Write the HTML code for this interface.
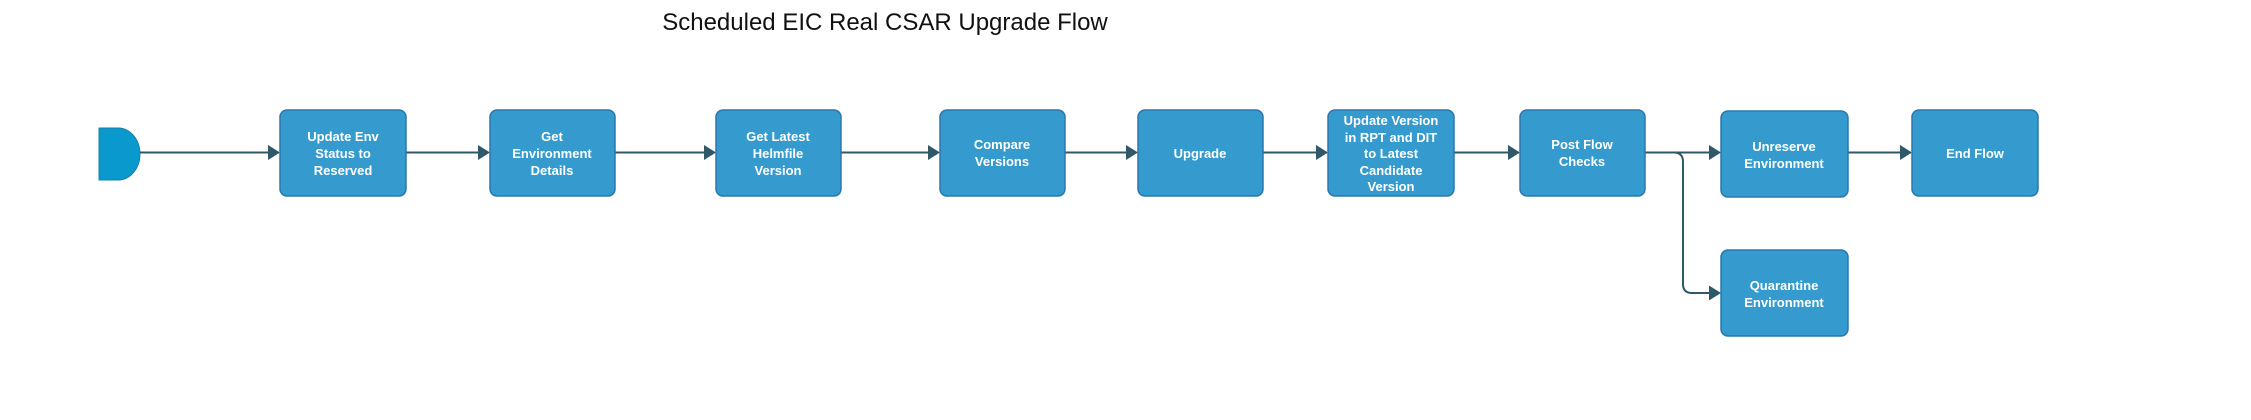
<!DOCTYPE html>
<html><head><meta charset="utf-8"><style>
html,body{margin:0;padding:0;background:#fff;width:2251px;height:420px;overflow:hidden}
svg{display:block}
.t{font-family:"Liberation Sans",Arial,sans-serif;font-weight:bold;font-size:13px;fill:#fff;text-anchor:middle}
.b{fill:#359bcf;stroke:#2a78ad;stroke-width:1.5}
.l{stroke:#2f5868;stroke-width:2;fill:none}
.a{fill:#2f5868}
</style></head><body>
<svg width="2251" height="420" viewBox="0 0 2251 420">
<text x="885" y="30" font-family="Liberation Sans,Arial,sans-serif" font-size="24" text-anchor="middle" fill="#111">Scheduled EIC Real CSAR Upgrade Flow</text>
<path d="M99,128 H118 A22,26 0 0 1 118,180 H99 Z" fill="#0a99cc" stroke="#1a7fb0" stroke-width="1"/>
<g class="l">
<path d="M140,152.5 H268"/>
<path d="M406,152.5 H478"/>
<path d="M615,152.5 H704"/>
<path d="M841,152.5 H928"/>
<path d="M1065,152.5 H1126"/>
<path d="M1263,152.5 H1316"/>
<path d="M1454,152.5 H1508"/>
<path d="M1645,152.5 H1709"/>
<path d="M1674,152.5 Q1683,152.5 1683,162 V284 Q1683,293 1692,293 H1709"/>
<path d="M1848,152.5 H1900"/>
</g>
<g class="a">
<path d="M268,145 L280,152.5 L268,160 Z"/>
<path d="M478,145 L490,152.5 L478,160 Z"/>
<path d="M704,145 L716,152.5 L704,160 Z"/>
<path d="M928,145 L940,152.5 L928,160 Z"/>
<path d="M1126,145 L1138,152.5 L1126,160 Z"/>
<path d="M1316,145 L1328,152.5 L1316,160 Z"/>
<path d="M1508,145 L1520,152.5 L1508,160 Z"/>
<path d="M1709,145 L1721,152.5 L1709,160 Z"/>
<path d="M1709,285.5 L1721,293 L1709,300.5 Z"/>
<path d="M1900,145 L1912,152.5 L1900,160 Z"/>
</g>
<rect class="b" x="280" y="110" width="126" height="86" rx="7"/>
<rect class="b" x="490" y="110" width="125" height="86" rx="7"/>
<rect class="b" x="716" y="110" width="125" height="86" rx="7"/>
<rect class="b" x="940" y="110" width="125" height="86" rx="7"/>
<rect class="b" x="1138" y="110" width="125" height="86" rx="7"/>
<rect class="b" x="1328" y="110" width="126" height="86" rx="7"/>
<rect class="b" x="1520" y="110" width="125" height="86" rx="7"/>
<rect class="b" x="1721" y="111" width="127" height="86" rx="7"/>
<rect class="b" x="1912" y="110" width="126" height="86" rx="7"/>
<rect class="b" x="1721" y="250" width="127" height="86" rx="7"/>
<text class="t"><tspan x="343" y="141">Update Env</tspan><tspan x="343" y="158">Status to</tspan><tspan x="343" y="175">Reserved</tspan></text>
<text class="t"><tspan x="552" y="141">Get</tspan><tspan x="552" y="158">Environment</tspan><tspan x="552" y="175">Details</tspan></text>
<text class="t"><tspan x="778" y="141">Get Latest</tspan><tspan x="778" y="158">Helmfile</tspan><tspan x="778" y="175">Version</tspan></text>
<text class="t"><tspan x="1002" y="149">Compare</tspan><tspan x="1002" y="166">Versions</tspan></text>
<text class="t"><tspan x="1200" y="158">Upgrade</tspan></text>
<text class="t"><tspan x="1391" y="125">Update Version</tspan><tspan x="1391" y="142">in RPT and DIT</tspan><tspan x="1391" y="158">to Latest</tspan><tspan x="1391" y="175">Candidate</tspan><tspan x="1391" y="191">Version</tspan></text>
<text class="t"><tspan x="1582" y="149">Post Flow</tspan><tspan x="1582" y="166">Checks</tspan></text>
<text class="t"><tspan x="1784" y="151">Unreserve</tspan><tspan x="1784" y="168">Environment</tspan></text>
<text class="t"><tspan x="1975" y="158">End Flow</tspan></text>
<text class="t"><tspan x="1784" y="290">Quarantine</tspan><tspan x="1784" y="307">Environment</tspan></text>
</svg>
</body></html>
